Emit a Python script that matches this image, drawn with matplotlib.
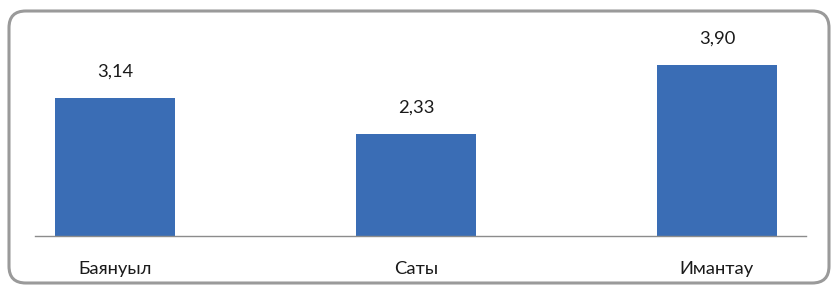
import matplotlib
matplotlib.use("Agg")
import matplotlib.pyplot as plt
from matplotlib.patches import FancyBboxPatch

categories = ["Баянуыл", "Саты", "Имантау"]
values = [3.14, 2.33, 3.90]
value_labels = ["3,14", "2,33", "3,90"]

plt.rcParams['font.family'] = ['Lato', 'DejaVu Sans']

W, H = 838, 287
fig = plt.figure(figsize=(W/100, H/100), dpi=100)
fig.patch.set_facecolor('white')

# rounded frame
frame = FancyBboxPatch((9/W, 4/H), (829-9)/W, (276-4)/H,
                       boxstyle="round,pad=0,rounding_size=0.02",
                       transform=fig.transFigure, facecolor='none',
                       edgecolor='#9a9a9a', linewidth=2.2, zorder=5,
                       mutation_aspect=W/H)
fig.patches.append(frame)

ax = fig.add_axes([35/W, (H-236)/H, (806-35)/W, (236-20)/H])
ax.set_facecolor('none')
x = list(range(len(categories)))
ax.bar(x, values, width=0.4, color='#3a6db5', zorder=2)
ax.set_xlim(-0.266, 2.296)
ax.set_ylim(0, 216/43.95)
for s in ['top', 'right', 'left']:
    ax.spines[s].set_visible(False)
ax.spines['bottom'].set_color('#8c8c8c')
ax.spines['bottom'].set_linewidth(1.0)
ax.set_yticks([])
ax.set_xticks(x)
ax.set_xticklabels(categories, fontsize=13.2, color='#1a1a1a')
ax.tick_params(axis='x', length=0, pad=18)
for xi, v, lab in zip(x, values, value_labels):
    ax.annotate(lab, (xi, v), xytext=(0, 13), textcoords='offset points',
                ha='center', va='bottom', fontsize=13.2, color='#1a1a1a')

fig.savefig('out.png', dpi=100)
